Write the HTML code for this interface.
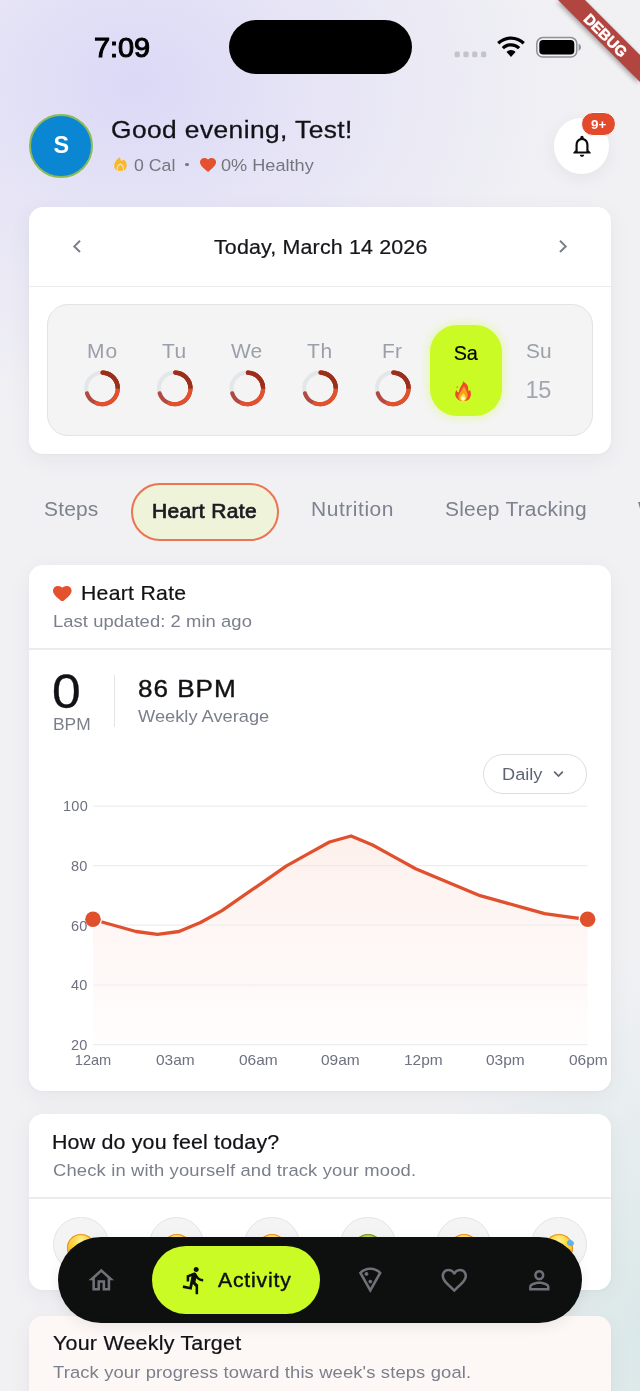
<!DOCTYPE html>
<html><head><meta charset="utf-8"><title>Activity</title>
<style>
*{box-sizing:border-box;margin:0;padding:0}
html,body{width:640px;height:1391px;overflow:hidden;background:#f1f1f4}
body{font-family:"Liberation Sans",sans-serif;}
#app{position:relative;width:640px;height:1391px;overflow:hidden;
 background:
  radial-gradient(ellipse 440px 340px at 135px 85px, rgba(218,215,247,.95) 0%, rgba(224,221,246,.65) 40%, rgba(241,241,244,0) 100%),
  radial-gradient(ellipse 300px 400px at 690px 1340px, rgba(212,229,229,.95) 0%, rgba(220,233,233,.6) 45%, rgba(241,241,244,0) 100%),
  #f1f1f4;}
.abs,.t,.card,svg.ic{position:absolute}
.t{white-space:pre;line-height:1;}
.card{background:#fff;border-radius:14px;left:29px;width:582px;box-shadow:0 6px 22px rgba(60,60,90,.06),0 1px 3px rgba(60,60,90,.03)}
.hr{position:absolute;left:29px;width:582px;height:1.5px;background:#ebebee}
#txt{position:absolute;left:0;top:0;width:640px;height:1391px;will-change:transform}

</style></head>
<body>
<div id="app">
<!-- status bar -->
<div class="abs" style="left:229px;top:20px;width:182.5px;height:54px;border-radius:27px;background:#000"></div>
<svg class="abs" style="left:450px;top:30px" width="140" height="34" viewBox="450 30 140 34">
  <g fill="#c3c3c8"><rect x="454.6" y="51.6" width="5.2" height="5.6" rx="1.5"/><rect x="463.4" y="51.6" width="5.2" height="5.6" rx="1.5"/><rect x="472.2" y="51.6" width="5.2" height="5.6" rx="1.5"/><rect x="481" y="51.6" width="5.2" height="5.6" rx="1.5"/></g>
  <!-- wifi -->
  <g transform="translate(496.300,35.400) scale(1.05)">
    <path d="M14 4.2c4.3 0 8.2 1.7 11.100 4.500l2.100-2.300C23.700 3 19.100 1 14 1S4.300 3 .8 6.400l2.100 2.300C5.800 5.900 9.700 4.200 14 4.200z" fill="#000"/>
    <path d="M14 10.600c2.600 0 4.900 1 6.700 2.700l2.100-2.300C20.500 8.800 17.400 7.500 14 7.500s-6.500 1.300-8.800 3.500l2.100 2.300c1.800-1.700 4.100-2.700 6.700-2.700z" fill="#000"/>
    <path d="M14 13.900c-1.700 0-3.200.7-4.300 1.800L14 20.500l4.300-4.800c-1.100-1.100-2.600-1.800-4.300-1.800z" fill="#000"/>
  </g>
  <!-- battery -->
  <rect x="536.800" y="37.600" width="40" height="19.400" rx="6" fill="none" stroke="#8f9097" stroke-width="1.500"/>
  <rect x="539.300" y="40.100" width="35" height="14.400" rx="3.800" fill="#000"/>
  <path d="M578.600 43.800c1.500.5 2.300 1.900 2.300 3.500s-.8 3-2.300 3.500z" fill="#8f9097"/>
</svg>

<!-- avatar -->
<div class="abs" style="left:28.700px;top:113.500px;width:64.700px;height:64.700px;border-radius:50%;background:#0b86d3;border:2.700px solid #8cba57"></div>
<!-- flame small -->
<svg class="abs" style="left:113.500px;top:157.200px" width="13" height="13.800" viewBox="148 138 346 368" preserveAspectRatio="none"><path d="M300 140C308 180 320 215 342 236C368 240 396 226 416 214C452 250 490 300 486 362C482 422 462 470 424 496C400 506 240 506 214 496C176 468 150 422 152 360C156 290 200 232 240 192C265 170 286 156 300 140Z" fill="#f9b926"/><path d="M233 520V442C233 384 276 344 318 324C360 344 401 384 401 442V520" fill="none" stroke="#e2dff5" stroke-width="30" stroke-linejoin="round"/><circle cx="318" cy="440" r="57" fill="#f9b926"/></svg>
<div class="abs" style="left:185.200px;top:162.600px;width:3.600px;height:3.600px;border-radius:50%;background:#777981"></div>
<svg class="abs" style="left:199.600px;top:157.800px" width="16.100" height="14" viewBox="2 3 20 18.350" preserveAspectRatio="none"><path d="M12 21.350l-1.450-1.320C5.400 15.360 2 12.280 2 8.500 2 5.420 4.420 3 7.500 3c1.740 0 3.410.81 4.500 2.090C13.090 3.810 14.760 3 16.500 3 19.580 3 22 5.420 22 8.500c0 3.780-3.400 6.860-8.550 11.540L12 21.350z" fill="#e4512f"/></svg>

<!-- bell -->
<div class="abs" style="left:553.800px;top:118px;width:55.600px;height:55.600px;border-radius:50%;background:#fff;box-shadow:0 4px 16px rgba(60,60,90,.07)"></div>
<svg class="abs" style="left:568.700px;top:132.800px" width="26" height="26" viewBox="0 0 24 24"><path d="M12 22c1.100 0 2-.9 2-2h-4c0 1.100.9 2 2 2zm6-6v-5c0-3.070-1.630-5.640-4.500-6.320V4c0-.83-.67-1.500-1.500-1.500s-1.500.67-1.500 1.500v.68C7.640 5.360 6 7.920 6 11v5l-2 2v1h16v-1l-2-2zm-2 1H8v-6c0-2.480 1.510-4.500 4-4.500s4 2.020 4 4.500v6z" fill="#0c0c0f"/></svg>
<div class="abs" style="left:581.300px;top:111.600px;width:34.800px;height:24.200px;border-radius:12.100px;background:#e24a2b;border:1.300px solid #fff"></div>

<!-- date card -->
<div class="card" style="top:207px;height:247px"></div>
<div class="hr" style="top:285.600px"></div>
<svg class="abs" style="left:70px;top:238px" width="14" height="17" viewBox="0 0 14 17"><path d="M10 2.800L4.300 8.400 10 14" fill="none" stroke="#7a7f8b" stroke-width="2" /></svg>
<svg class="abs" style="left:556px;top:238px" width="14" height="17" viewBox="0 0 14 17"><path d="M4 2.800L9.700 8.400 4 14" fill="none" stroke="#7a7f8b" stroke-width="2" /></svg>
<div class="abs" style="left:47px;top:304px;width:546px;height:131.500px;border-radius:21px;background:#f4f4f5;border:1.500px solid #e3e3e6"></div>
<!-- rings -->
<svg class="abs" style="left:60px;top:360px" width="380" height="58" viewBox="60 360 380 58">
 <defs><g id="ring">
  <circle r="15.8" fill="none" stroke="#e3e7e9" stroke-width="4.1"/>
  <path d="M0.55 -15.79A15.8 15.8 0 1 1 -15.03 4.88" fill="none" stroke="#b24a42" stroke-width="4.1" stroke-linecap="round"/>
  <path d="M0.55 -15.79A15.8 15.8 0 1 1 -5.40 14.85" fill="none" stroke="#e2502c" stroke-width="4.1" stroke-linecap="round"/>
  <path d="M0.55 -15.79A15.8 15.8 0 0 1 15.56 -2.74" fill="none" stroke="#9a2f1b" stroke-width="4.1" stroke-linecap="round"/>
  <path d="M5.40 -14.85A15.8 15.8 0 0 1 15.80 0.28" fill="none" stroke="#9a2f1b" stroke-width="4.1" stroke-linecap="butt"/>
 </g></defs>
 <use href="#ring" x="102" y="388.400"/><use href="#ring" x="174.700" y="388.400"/><use href="#ring" x="247.300" y="388.400"/><use href="#ring" x="320" y="388.400"/><use href="#ring" x="392.800" y="388.400"/>
</svg>
<!-- Sa pill -->
<div class="abs" style="left:430px;top:324.500px;width:72px;height:91px;border-radius:27px;background:#cbfb24;box-shadow:0 0 9px 2px rgba(212,250,80,.4)"></div>
<svg class="abs" style="left:455px;top:381px" width="16.300" height="20" viewBox="140 140 325 400" preserveAspectRatio="none"><defs><radialGradient id="fc" cx="300" cy="490" r="55" gradientUnits="userSpaceOnUse"><stop offset="0" stop-color="#fffef0"/><stop offset=".55" stop-color="#fff7c0"/><stop offset="1" stop-color="#fde23a" stop-opacity="0"/></radialGradient></defs><path d="M300 145C330 175 390 200 400 260C405 290 400 320 410 345C420 330 430 322 442 325C470 380 460 460 420 505C390 535 330 545 280 540C220 535 170 500 150 440C135 400 150 350 165 320C180 350 195 365 215 370C225 330 235 290 250 260C270 225 300 195 300 145Z" fill="#ee4b2b"/><ellipse cx="183" cy="262" rx="11" ry="24" transform="rotate(12 183 262)" fill="#f2683a"/><path d="M320 245C345 290 370 330 385 380C400 430 390 490 350 525C320 545 260 545 230 515C200 485 200 440 220 405C245 370 275 330 290 290C300 270 310 255 320 245Z" fill="#f9a11f"/><path d="M310 385C335 420 360 450 355 490C350 525 320 540 295 538C265 536 240 510 245 475C250 440 285 420 310 385Z" fill="#fde23a"/><ellipse cx="300" cy="490" rx="48" ry="52" fill="url(#fc)"/></svg>

<!-- tabs -->
<div class="abs" style="left:130.500px;top:482.500px;width:148.500px;height:58px;border-radius:29px;background:#eef3da;border:2px solid #ea7453"></div>

<!-- heart card -->
<div class="card" style="top:565px;height:525.800px"></div>
<svg class="abs" style="left:53.200px;top:585.500px" width="18.600" height="15.800" viewBox="2 3 20 18.350" preserveAspectRatio="none"><path d="M12 21.350l-1.450-1.320C5.400 15.360 2 12.280 2 8.500 2 5.420 4.420 3 7.500 3c1.740 0 3.410.81 4.500 2.090C13.090 3.810 14.760 3 16.500 3 19.580 3 22 5.420 22 8.500c0 3.780-3.400 6.860-8.550 11.540L12 21.350z" fill="#e4512f"/></svg>
<div class="hr" style="top:648.300px"></div>
<div class="abs" style="left:113.500px;top:675px;width:1.500px;height:52px;background:#e4e4e7"></div>
<div class="abs" style="left:483.300px;top:753.800px;width:104.200px;height:40px;border-radius:20px;background:#fff;border:1.500px solid #dedee1"></div>
<svg class="abs" style="left:551px;top:768px" width="15" height="12" viewBox="0 0 15 12"><path d="M3.200 3.700L7.500 8 11.800 3.700" fill="none" stroke="#5f6473" stroke-width="1.700"/></svg>
<!-- chart -->
<svg class="abs" style="left:40px;top:795px" width="570" height="262" viewBox="40 795 570 262">
 <defs><linearGradient id="fg" x1="0" y1="835" x2="0" y2="1045" gradientUnits="userSpaceOnUse"><stop offset="0" stop-color="#fdf0ec"/><stop offset="0.500" stop-color="#fef7f5"/><stop offset="1" stop-color="#fffdfd"/></linearGradient></defs>
 <path d="M93.0 919.5 L114.5 925.5 L136.0 931.5 L157.5 934.4 L179.0 931.5 L200.5 922.5 L222.0 910.6 L243.5 895.7 L265.0 880.8 L286.5 865.9 L308.0 853.9 L329.5 842.0 L351.1 836.0 L372.6 845.0 L394.1 856.9 L415.6 868.8 L437.1 877.8 L458.6 886.7 L480.1 895.7 L501.6 901.6 L523.1 907.6 L544.6 913.6 L566.1 916.6 L587.6 919.5 L587.6 1044.8 L93.0 1044.8Z" fill="url(#fg)"/>
 <g stroke="#ebebee" stroke-width="1.200"><path d="M93.500 806.200H587.500M93.500 865.700H587.500M93.500 925.200H587.500M93.500 985H587.500M93.500 1044.600H587.500" opacity=".95"/></g>
 <path d="M93.0 919.5 L114.5 925.5 L136.0 931.5 L157.5 934.4 L179.0 931.5 L200.5 922.5 L222.0 910.6 L243.5 895.7 L265.0 880.8 L286.5 865.9 L308.0 853.9 L329.5 842.0 L351.1 836.0 L372.6 845.0 L394.1 856.9 L415.6 868.8 L437.1 877.8 L458.6 886.7 L480.1 895.7 L501.6 901.6 L523.1 907.6 L544.6 913.6 L566.1 916.6 L587.6 919.5" fill="none" stroke="#e0502d" stroke-width="3.3" stroke-linejoin="round" stroke-linecap="round"/>
 <circle cx="93" cy="919.300" r="9" fill="#fff"/><circle cx="93" cy="919.300" r="7.800" fill="#e0502d"/>
 <circle cx="587.600" cy="919.300" r="9" fill="#fff"/><circle cx="587.600" cy="919.300" r="7.800" fill="#e0502d"/>
</svg>

<!-- mood card -->
<div class="card" style="top:1114.400px;height:175.400px"></div>
<div class="hr" style="top:1197px"></div>
<div class="abs" style="left:53.0px;top:1216.7px;width:55.8px;height:55.8px;border-radius:50%;background:#f4f4f5;border:1.3px solid #e4e4e7"></div>
<div class="abs" style="left:66.9px;top:1234.2px;width:28px;height:28px;border-radius:50%;background:radial-gradient(circle at 50% 25%,#fff39a 0%,#ffd83a 35%,#fbb62a 75%,#f09222 100%);box-shadow:inset 0 0 0 1px rgba(226,120,30,.75)"></div>
<div class="abs" style="left:148.7px;top:1216.7px;width:55.8px;height:55.8px;border-radius:50%;background:#f4f4f5;border:1.3px solid #e4e4e7"></div>
<div class="abs" style="left:162.6px;top:1234.2px;width:28px;height:28px;border-radius:50%;background:radial-gradient(circle at 50% 25%,#fff39a 0%,#ffd83a 35%,#fbb62a 75%,#f09222 100%);box-shadow:inset 0 0 0 1px rgba(226,120,30,.75)"></div>
<div class="abs" style="left:244.3px;top:1216.7px;width:55.8px;height:55.8px;border-radius:50%;background:#f4f4f5;border:1.3px solid #e4e4e7"></div>
<div class="abs" style="left:258.2px;top:1234.2px;width:28px;height:28px;border-radius:50%;background:radial-gradient(circle at 50% 25%,#fff39a 0%,#ffd83a 35%,#fbb62a 75%,#f09222 100%);box-shadow:inset 0 0 0 1px rgba(226,120,30,.75)"></div>
<div class="abs" style="left:340.0px;top:1216.7px;width:55.8px;height:55.8px;border-radius:50%;background:#f4f4f5;border:1.3px solid #e4e4e7"></div>
<div class="abs" style="left:353.9px;top:1234.2px;width:28px;height:28px;border-radius:50%;background:radial-gradient(circle at 50% 25%,#d8e36a 0%,#a9c233 40%,#86a628 100%);box-shadow:inset 0 0 0 1px rgba(110,140,30,.8)"></div>
<div class="abs" style="left:435.6px;top:1216.7px;width:55.8px;height:55.8px;border-radius:50%;background:#f4f4f5;border:1.3px solid #e4e4e7"></div>
<div class="abs" style="left:449.5px;top:1234.2px;width:28px;height:28px;border-radius:50%;background:radial-gradient(circle at 50% 25%,#fff39a 0%,#ffd83a 35%,#fbb62a 75%,#f09222 100%);box-shadow:inset 0 0 0 1px rgba(226,120,30,.75)"></div>
<div class="abs" style="left:531.2px;top:1216.7px;width:55.8px;height:55.8px;border-radius:50%;background:#f4f4f5;border:1.3px solid #e4e4e7"></div>
<div class="abs" style="left:545.1px;top:1234.2px;width:28px;height:28px;border-radius:50%;background:radial-gradient(circle at 50% 25%,#fff39a 0%,#ffd83a 35%,#fbb62a 75%,#f09222 100%);box-shadow:inset 0 0 0 1px rgba(226,120,30,.75)"></div>
<div class="abs" style="left:567.1px;top:1240px;width:7px;height:6px;border-radius:50%;background:#5db4ee;transform:rotate(30deg)"></div>

<!-- weekly card -->
<div class="card" style="top:1316px;height:120px;background:#fdf8f6"></div>

<!-- nav -->
<div class="abs" style="left:58px;top:1236.700px;width:524px;height:86.200px;border-radius:43.100px;background:#0e100f;box-shadow:0 4px 14px rgba(0,0,0,.07)"></div>
<div class="abs" style="left:152px;top:1246.200px;width:168px;height:67.800px;border-radius:33.900px;background:#cbfb24"></div>
<svg class="abs" style="left:86.200px;top:1264.800px" width="30.600" height="30.600" viewBox="0 0 24 24"><path d="M12 5.690l5 4.500V18h-2v-6H9v6H7v-7.810l5-4.500M12 3L2 12h3v8h6v-6h2v6h6v-8h3L12 3z" fill="#6f7179"/></svg>
<svg class="abs" style="left:178.600px;top:1265px" width="30.600" height="30.600" viewBox="0 0 24 24"><path d="M13.490 5.480c1.100 0 2-.9 2-2s-.9-2-2-2-2 .9-2 2 .9 2 2 2zm-3.600 13.900l1-4.400 2.100 2v6h2v-7.500l-2.100-2 .6-3c1.300 1.500 3.300 2.500 5.500 2.500v-2c-1.900 0-3.500-1-4.300-2.400l-1-1.600c-.4-.6-1-1-1.700-1-.3 0-.5.100-.8.100l-5.200 2.200v4.700h2v-3.400l1.800-.7-1.600 8.100-4.900-1-.4 2 7 1.400z" fill="#0d0f0e"/></svg>
<svg class="abs" style="left:354.600px;top:1264.800px" width="30.600" height="30.600" viewBox="0 0 24 24"><path d="M12 2C8.430 2 5.230 3.540 3.010 6L12 22l8.990-16C18.780 3.550 15.570 2 12 2zm0 15.920L5.510 6.360C7.320 4.850 9.620 4 12 4s4.680.85 6.490 2.360L12 17.920zM9 5.500c-.83 0-1.500.67-1.500 1.500S8.170 8.500 9 8.500s1.500-.67 1.500-1.500S9.820 5.500 9 5.500zm1.500 7.500c0 .83.670 1.500 1.500 1.500.820 0 1.500-.67 1.500-1.500s-.68-1.500-1.500-1.500-1.500.67-1.500 1.500z" fill="#6f7179"/></svg>
<svg class="abs" style="left:439px;top:1264.800px" width="30.600" height="30.600" viewBox="0 0 24 24"><path d="M16.500 3c-1.740 0-3.410.81-4.500 2.090C10.910 3.810 9.240 3 7.500 3 4.420 3 2 5.420 2 8.500c0 3.780 3.400 6.860 8.550 11.540L12 21.350l1.450-1.320C18.600 15.360 22 12.280 22 8.500 22 5.420 19.580 3 16.500 3zm-4.400 15.550l-.1.100-.1-.1C7.140 14.240 4 11.390 4 8.500 4 6.500 5.500 5 7.500 5c1.540 0 3.040.99 3.570 2.360h1.870C13.460 5.990 14.960 5 16.500 5c2 0 3.500 1.500 3.500 3.500 0 2.890-3.140 5.740-7.900 10.050z" fill="#6f7179"/></svg>
<svg class="abs" style="left:523.500px;top:1265.300px" width="30.600" height="30.600" viewBox="0 0 24 24"><path d="M12 5.900c1.160 0 2.100.94 2.100 2.100s-.94 2.100-2.100 2.100S9.900 9.160 9.900 8s.94-2.100 2.100-2.100m0 9c2.970 0 6.100 1.460 6.100 2.100v1.100H5.900V17c0-.64 3.130-2.100 6.100-2.100M12 4C9.790 4 8 5.790 8 8s1.790 4 4 4 4-1.790 4-4-1.790-4-4-4zm0 9c-2.670 0-8 1.340-8 4v3h16v-3c0-2.660-5.330-4-8-4z" fill="#6f7179"/></svg>

<!-- text -->
<div id="txt">
<div class="t" style="left:93.52px;top:33.80px;font-size:28px;color:#000;-webkit-text-stroke:1.1px #000;transform:scaleX(1.0305);transform-origin:0 0;">7:09</div>
<div class="t" style="left:53.40px;top:134.19px;font-size:23.4px;color:#fff;font-weight:700;">S</div>
<div class="t" style="left:110.61px;top:118.18px;font-size:24.6px;color:#121216;letter-spacing:0.404px;-webkit-text-stroke:0.3px #121216;transform:scaleX(1.0700);transform-origin:0 0;">Good evening, Test!</div>
<div class="t" style="left:134.34px;top:156.67px;font-size:17.4px;color:#74767e;transform:scaleX(1.0177);transform-origin:0 0;">0 Cal</div>
<div class="t" style="left:221.32px;top:156.67px;font-size:17.4px;color:#74767e;transform:scaleX(1.0430);transform-origin:0 0;">0% Healthy</div>
<div class="t" style="left:591.06px;top:118.36px;font-size:13.4px;color:#fff;font-weight:700;">9+</div>
<div class="t" style="left:213.50px;top:237.37px;font-size:20px;color:#16161b;letter-spacing:0.154px;-webkit-text-stroke:0.22px #16161b;transform:scaleX(1.0700);transform-origin:0 0;">Today, March 14 2026</div>
<div class="t" style="left:86.96px;top:341.71px;font-size:19.6px;color:#9b9fa9;letter-spacing:0.871px;transform:scaleX(1.0700);transform-origin:0 0;">Mo</div>
<div class="t" style="left:162.46px;top:341.71px;font-size:19.6px;color:#9b9fa9;letter-spacing:0.357px;transform:scaleX(1.0700);transform-origin:0 0;">Tu</div>
<div class="t" style="left:231.46px;top:341.71px;font-size:19.6px;color:#9b9fa9;transform:scaleX(1.0697);transform-origin:0 0;">We</div>
<div class="t" style="left:307.46px;top:341.71px;font-size:19.6px;color:#9b9fa9;letter-spacing:0.558px;transform:scaleX(1.0700);transform-origin:0 0;">Th</div>
<div class="t" style="left:382.46px;top:341.71px;font-size:19.6px;color:#9b9fa9;letter-spacing:0.260px;transform:scaleX(1.0700);transform-origin:0 0;">Fr</div>
<div class="t" style="left:453.86px;top:343.94px;font-size:19.8px;color:#000;letter-spacing:-0.318px;-webkit-text-stroke:0.2px #000;">Sa</div>
<div class="t" style="left:525.62px;top:342.01px;font-size:19.6px;color:#9b9fa9;transform:scaleX(1.0667);transform-origin:0 0;">Su</div>
<div class="t" style="left:525.51px;top:378.72px;font-size:23.6px;color:#a3a6af;letter-spacing:-0.480px;">15</div>
<div class="t" style="left:44.01px;top:499.91px;font-size:19.6px;color:#7d828e;letter-spacing:0.153px;transform:scaleX(1.0700);transform-origin:0 0;">Steps</div>
<div class="t" style="left:152.41px;top:501.91px;font-size:19.6px;color:#1b1b20;letter-spacing:0.331px;-webkit-text-stroke:0.7px #1b1b20;transform:scaleX(1.0700);transform-origin:0 0;">Heart Rate</div>
<div class="t" style="left:311.11px;top:499.91px;font-size:19.6px;color:#7d828e;letter-spacing:0.514px;transform:scaleX(1.0700);transform-origin:0 0;">Nutrition</div>
<div class="t" style="left:445.11px;top:499.91px;font-size:19.6px;color:#7d828e;letter-spacing:0.208px;transform:scaleX(1.0700);transform-origin:0 0;">Sleep Tracking</div>
<div class="t" style="left:638.06px;top:499.91px;font-size:19.6px;color:#7d828e;">W</div>
<div class="t" style="left:81.01px;top:583.74px;font-size:19.8px;color:#121216;letter-spacing:0.284px;-webkit-text-stroke:0.22px #121216;transform:scaleX(1.0700);transform-origin:0 0;">Heart Rate</div>
<div class="t" style="left:52.61px;top:612.74px;font-size:17.2px;color:#7b7f8b;letter-spacing:0.066px;transform:scaleX(1.0700);transform-origin:0 0;">Last updated: 2 min ago</div>
<div class="t" style="left:52.49px;top:666.50px;font-size:48.2px;color:#121216;-webkit-text-stroke:0.3px #121216;transform:scaleX(1.07);transform-origin:0 0;">0</div>
<div class="t" style="left:53.05px;top:715.64px;font-size:17.2px;color:#7b7f8b;transform:scaleX(1.0095);transform-origin:0 0;">BPM</div>
<div class="t" style="left:138.32px;top:677.35px;font-size:24.4px;color:#121216;letter-spacing:0.901px;-webkit-text-stroke:0.4px #121216;transform:scaleX(1.0700);transform-origin:0 0;">86 BPM</div>
<div class="t" style="left:137.91px;top:707.64px;font-size:17.2px;color:#7b7f8b;transform:scaleX(1.0622);transform-origin:0 0;">Weekly Average</div>
<div class="t" style="left:502.02px;top:766.14px;font-size:17.2px;color:#5f6473;transform:scaleX(1.0592);transform-origin:0 0;">Daily</div>
<div class="t" style="left:62.94px;top:799.13px;font-size:14.5px;color:#6d7180;letter-spacing:0.3px;">100</div>
<div class="t" style="left:71.00px;top:858.93px;font-size:14.5px;color:#6d7180;letter-spacing:0.3px;">80</div>
<div class="t" style="left:71.00px;top:918.53px;font-size:14.5px;color:#6d7180;letter-spacing:0.3px;">60</div>
<div class="t" style="left:71.00px;top:978.23px;font-size:14.5px;color:#6d7180;letter-spacing:0.3px;">40</div>
<div class="t" style="left:71.00px;top:1037.93px;font-size:14.5px;color:#6d7180;letter-spacing:0.3px;">20</div>
<div class="t" style="left:74.85px;top:1052.64px;font-size:14.6px;color:#6d7180;letter-spacing:-0.074px;">12am</div>
<div class="t" style="left:156.12px;top:1052.64px;font-size:14.6px;color:#6d7180;transform:scaleX(1.0615);transform-origin:0 0;">03am</div>
<div class="t" style="left:238.62px;top:1052.64px;font-size:14.6px;color:#6d7180;transform:scaleX(1.0615);transform-origin:0 0;">06am</div>
<div class="t" style="left:321.12px;top:1052.64px;font-size:14.6px;color:#6d7180;transform:scaleX(1.0615);transform-origin:0 0;">09am</div>
<div class="t" style="left:403.62px;top:1052.64px;font-size:14.6px;color:#6d7180;transform:scaleX(1.0615);transform-origin:0 0;">12pm</div>
<div class="t" style="left:486.12px;top:1052.64px;font-size:14.6px;color:#6d7180;transform:scaleX(1.0615);transform-origin:0 0;">03pm</div>
<div class="t" style="left:568.62px;top:1052.64px;font-size:14.6px;color:#6d7180;transform:scaleX(1.0615);transform-origin:0 0;">06pm</div>
<div class="t" style="left:52.40px;top:1132.07px;font-size:20px;color:#121216;letter-spacing:0.158px;-webkit-text-stroke:0.22px #121216;transform:scaleX(1.0700);transform-origin:0 0;">How do you feel today?</div>
<div class="t" style="left:52.61px;top:1162.04px;font-size:17.2px;color:#7b7f8b;letter-spacing:0.141px;transform:scaleX(1.0700);transform-origin:0 0;">Check in with yourself and track your mood.</div>
<div class="t" style="left:218.01px;top:1270.74px;font-size:19.8px;color:#0d0f0e;letter-spacing:0.767px;-webkit-text-stroke:0.4px #0d0f0e;transform:scaleX(1.0700);transform-origin:0 0;">Activity</div>
<div class="t" style="left:52.70px;top:1333.07px;font-size:20px;color:#121216;letter-spacing:0.226px;-webkit-text-stroke:0.22px #121216;transform:scaleX(1.0700);transform-origin:0 0;">Your Weekly Target</div>
<div class="t" style="left:52.61px;top:1363.94px;font-size:17.2px;color:#7b7f8b;letter-spacing:0.122px;transform:scaleX(1.0700);transform-origin:0 0;">Track your progress toward this week's steps goal.</div>
</div>
<!-- overlay -->
<!-- debug banner -->
<svg class="abs" style="left:540px;top:0" width="100" height="100" viewBox="540 0 100 100">
 <defs><filter id="bs" x="-20%" y="-20%" width="140%" height="140%"><feGaussianBlur stdDeviation="2.500"/></filter></defs>
 <path d="M558 0L640 82V55L585 0Z" fill="#000" opacity=".35" filter="url(#bs)" transform="translate(-1.500,1.500)"/>
 <path d="M558 0L640 82V55L585 0Z" fill="#b2453f"/>
 <text transform="translate(605.600,35.200) rotate(45)" text-anchor="middle" font-family="Liberation Sans, sans-serif" font-weight="700" font-size="15" fill="#fff" stroke="#fff" stroke-width=".5" y="5.400">DEBUG</text>
</svg>

</div>
</body></html>
